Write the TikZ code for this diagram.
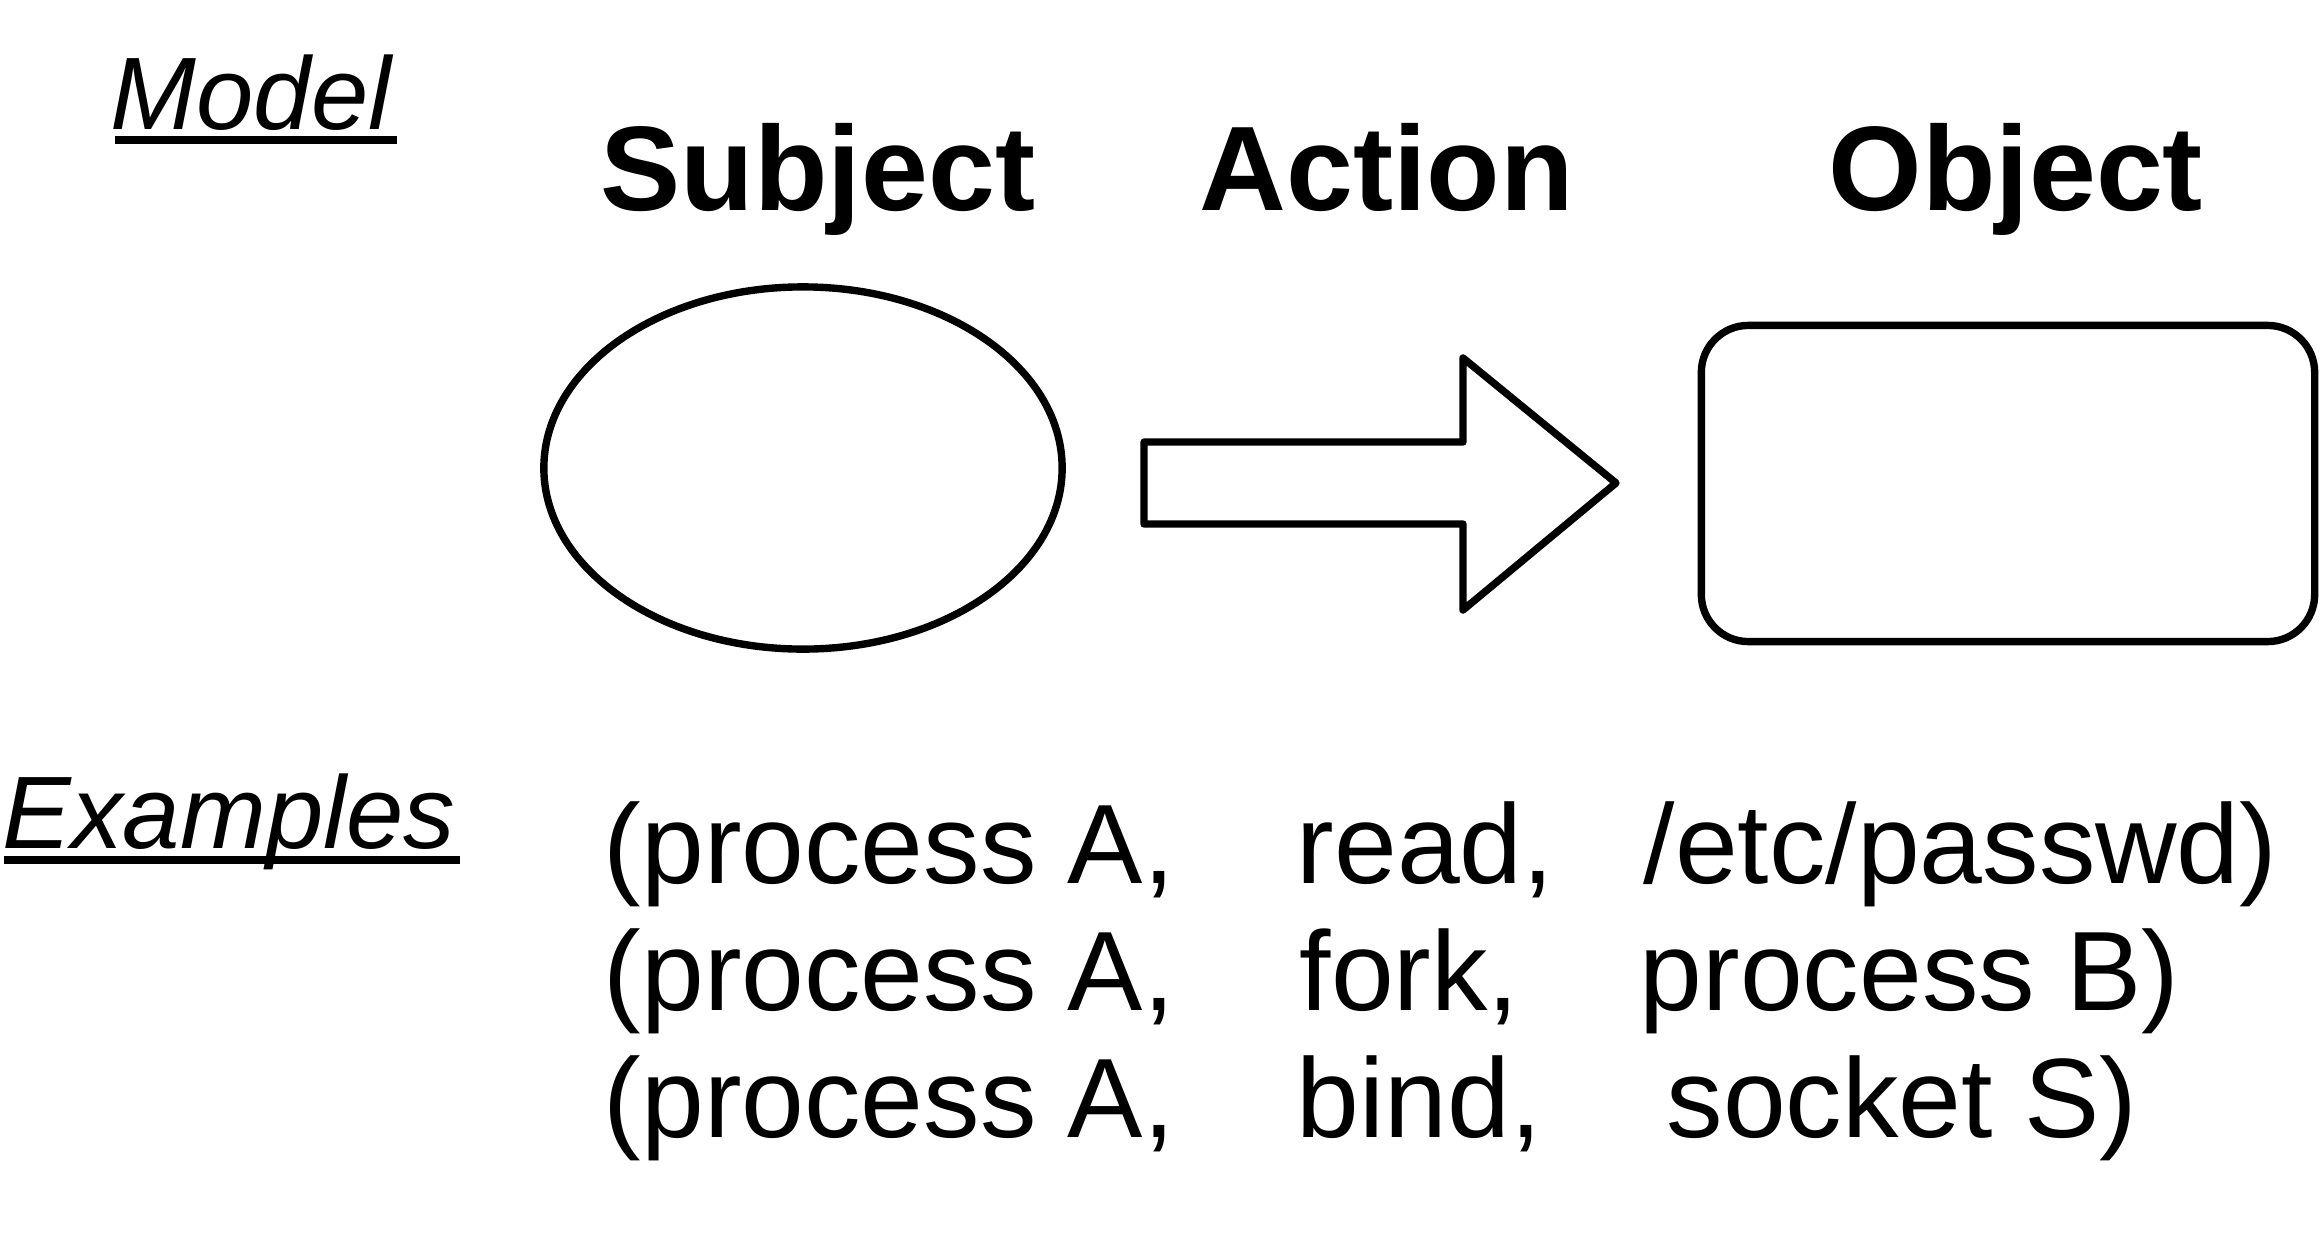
\documentclass[tikz,border=0pt]{standalone}
\usepackage{fontspec}
\setmainfont{Liberation Sans}
\usetikzlibrary{shapes.geometric}
\begin{document}
\begin{tikzpicture}[x=0.01cm,y=-0.01cm,
  shapeline/.style={draw=black,line width=2.1pt},
  head/.style={inner sep=0pt,anchor=base west,font=\fontsize{34.2pt}{40pt}\selectfont\bfseries},
  lab/.style={inner sep=0pt,anchor=base west,font=\fontsize{29.3pt}{34pt}\selectfont\itshape},
  ex/.style={inner sep=0pt,anchor=base west,font=\fontsize{32.1pt}{38pt}\selectfont},
  ul/.style={line width=2.2pt}]
\useasboundingbox[fill=white] (0,0) rectangle (2320,1248);
% labels
\node[lab] (model) at (110,129) {Model};
\draw[ul] (115,140) -- (397,140);
\node[lab] (examples) at (2,848) {Examples};
\draw[ul] (4,860) -- (460,860);
% headers
\node[head] (subject) at (600,210) {Subject};
\node[head] (action) at (1199,210) {Action};
\node[head] (object) at (1828,210) {Object};
% shapes
\node[shapeline,ellipse,inner sep=0pt,minimum width=5.18cm,minimum height=3.62cm] (subj) at (803,468) {};
\node[shapeline,rectangle,rounded corners=0.47cm,inner sep=0pt,minimum width=6.13cm,minimum height=3.16cm] (obj) at (2008,483.5) {};
\draw[shapeline,line join=round] (1144,442) -- (1463,442) -- (1463,358) -- (1616,483) -- (1463,610) -- (1463,524) -- (1144,524) -- cycle;
% examples
\node[ex] (r1a) at (603,883) {(process A,};
\node[ex] (r1b) at (1296,883) {read,};
\node[ex] (r1c) at (1643,883) {/etc/passwd)};
\node[ex] (r2a) at (603,1010) {(process A,};
\node[ex] (r2b) at (1299,1010) {fork,};
\node[ex] (r2c) at (1639,1010) {process B)};
\node[ex] (r3a) at (603,1137) {(process A,};
\node[ex] (r3b) at (1296,1137) {bind,};
\node[ex] (r3c) at (1666,1137) {socket S)};
\end{tikzpicture}
\end{document}
